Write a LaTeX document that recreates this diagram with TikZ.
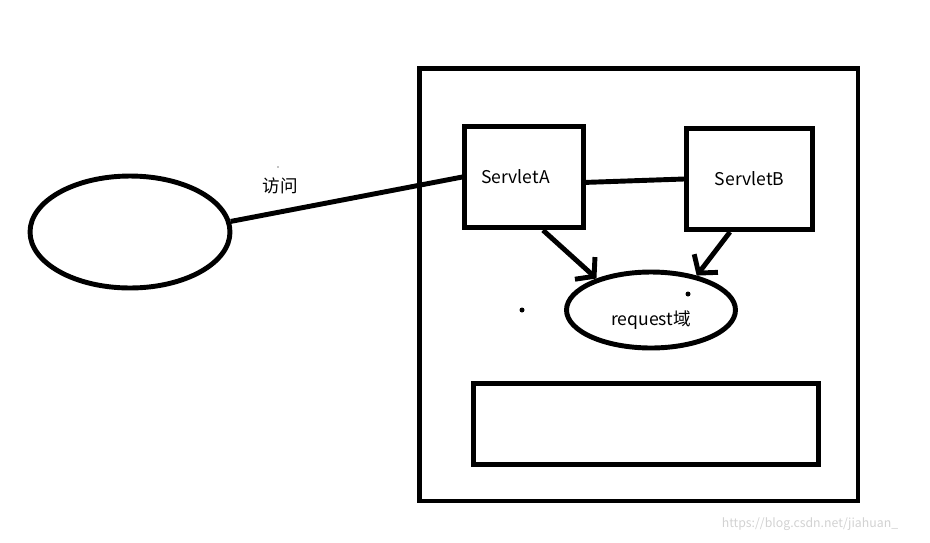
\documentclass[tikz,border=0pt]{standalone}
\usepackage{fontspec}
\setmainfont{Noto Sans CJK SC}
\usetikzlibrary{shapes,arrows.meta}
\tikzstyle{servlet} = [rectangle, draw=black, line width=2.8pt, minimum width=2.37cm, minimum height=2.03cm, font=\fontsize{10}{12}\selectfont]
\tikzstyle{oval} = [ellipse, draw=black, line width=2.8pt, font=\fontsize{10}{12}\selectfont]
\tikzstyle{line} = [line width=2.8pt]
\tikzstyle{arrow} = [line width=2.8pt, -{Straight Barb[length=7pt,width=17pt,line width=2.8pt]}]

\begin{document}
\begin{tikzpicture}[x=0.02cm, y=-0.02cm]
\useasboundingbox (0,0) rectangle (930,542);

\node (server) [rectangle, draw=black, line width=2.8pt, minimum width=8.78cm, minimum height=8.65cm] at (638.5,284.8) {};
\node (client) [oval, minimum width=4.0cm, minimum height=2.24cm] at (130,232) {};
\node (servletA) [servlet, label={[font=\fontsize{10}{12}\selectfont, xshift=-0.17cm]center:ServletA}] at (524,177) {};
\node (servletB) [servlet, minimum width=2.52cm, minimum height=2.02cm] at (749.5,179) {ServletB};
\node (request) [oval, minimum width=3.38cm, minimum height=1.52cm, label={[font=\fontsize{10}{12}\selectfont, yshift=-0.2cm]center:request域}] at (651,310) {};
\node (store) [rectangle, draw=black, line width=2.8pt, minimum width=6.89cm, minimum height=1.63cm] at (646,424) {};

\node (visit) [font=\fontsize{10}{12}\selectfont] at (280,186) {访问};
\node (mark) [font=\fontsize{7}{8}\selectfont, text=gray!35] at (810,524) {https://blog.csdn.net/jiahuan\_};

\draw [line] (client.6) -- (servletA.west);
\draw [line] (servletA.-5) -- (servletB.west);
\draw [arrow] ([xshift=0.38cm]servletA.south) -- (request.150);
\draw [arrow] ([xshift=-0.39cm]servletB.south) -- (request.37);

\fill (278,167) circle (0.012cm);
\fill (522,310) circle (0.05cm);
\fill (688,294) circle (0.05cm);

\end{tikzpicture}
\end{document}
